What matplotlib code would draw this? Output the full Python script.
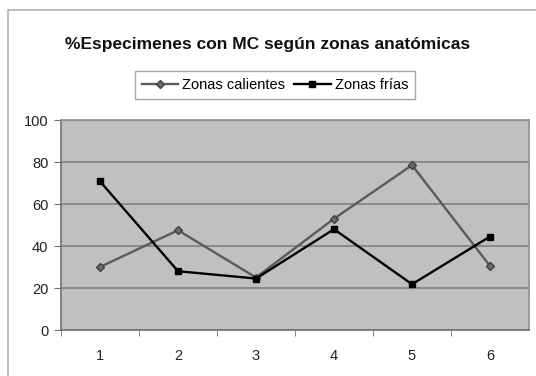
import matplotlib
matplotlib.use('Agg')
import matplotlib.pyplot as plt
from matplotlib.patches import Rectangle

plt.rcParams['font.family'] = ['Liberation Sans', 'DejaVu Sans']

categorias = [1, 2, 3, 4, 5, 6]
zonas_calientes = [30, 47.5, 25, 53, 78.5, 30.5]
zonas_frias = [70.8, 28, 24.5, 48, 21.8, 44.5]
yticks = [0, 20, 40, 60, 80, 100]

W, H = 536, 376
fig = plt.figure(figsize=(W/100, H/100), dpi=100)
fig.patch.set_facecolor('white')
# marco exterior del grafico
fig.patches.append(Rectangle((8/W, -0.05), 1.0, (H-10)/H+0.05, transform=fig.transFigure,
                             fill=False, edgecolor='#b0b0b0', lw=1.2))

ax = fig.add_axes([61/W, (H-330)/H, 468/W, 210/H])
ax.set_facecolor('#c0c0c0')
ax.plot(categorias, zonas_calientes, color='#5a5a5a', lw=1.7, marker='D', ms=4.5,
        mfc='#6a6a6a', mec='#404040', label='Zonas calientes')
ax.plot(categorias, zonas_frias, color='#000000', lw=1.7, marker='s', ms=4.5,
        mfc='black', label='Zonas frías')

ax.set_xlim(0.5, 6.5)
ax.set_ylim(0, 100)
ax.set_yticks(yticks)
ax.set_xticks(categorias)
ax.set_xticks([c + 0.5 for c in categorias[:-1]] + [0.5], minor=True)
ax.tick_params(axis='x', which='major', length=0, pad=14, labelsize=10.5, colors='#202020')
ax.tick_params(axis='x', which='minor', length=4, direction='out', color='#707070')
ax.tick_params(axis='y', length=5, direction='out', color='#707070', labelsize=10.5,
               colors='#202020', pad=4)
ax.grid(axis='y', color='#808080', lw=1.2)
ax.set_axisbelow(True)
for s in ['left', 'bottom']:
    ax.spines[s].set_color('#707070')
    ax.spines[s].set_linewidth(1.2)
for s in ['top', 'right']:
    ax.spines[s].set_color('#909090')
    ax.spines[s].set_linewidth(1.2)

fig.text(268/W, 1 - 45/H, '%Especimenes con MC según zonas anatómicas', ha='center',
         va='center', fontsize=12.5, fontweight='bold', color='#101010')
leg = fig.legend(loc='center', bbox_to_anchor=(275/W, 1 - 85/H), ncol=2, fontsize=10.5,
                 frameon=True, fancybox=False, edgecolor='#909090', handlelength=2.5,
                 handletextpad=0.3, columnspacing=0.6, borderpad=0.45)
leg.get_frame().set_linewidth(1.0)

fig.savefig('out.png', dpi=100)
